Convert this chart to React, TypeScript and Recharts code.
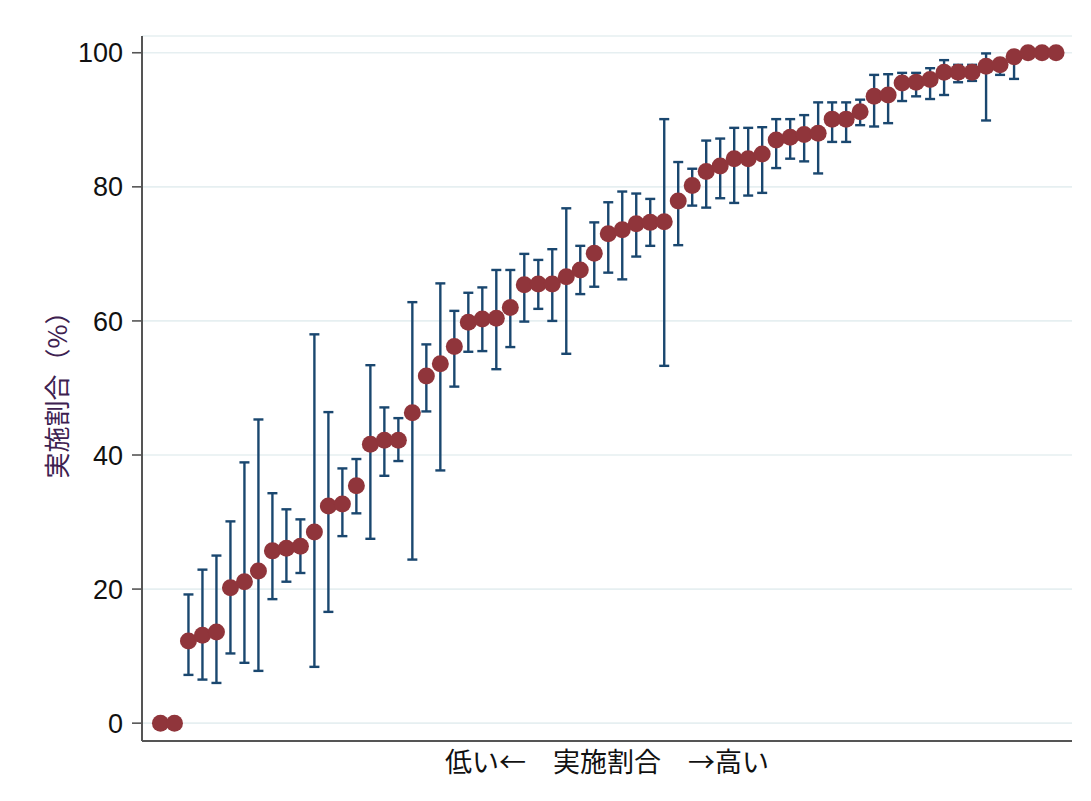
import { ScatterChart, Scatter, XAxis, YAxis, CartesianGrid, ErrorBar, Label } from 'recharts';

// ranked share of implementation (%), with lower / upper confidence limits
const rates = [
  0, 0, 12.25, 13.1, 13.6, 20.2, 21.1, 22.7, 25.7, 26.1, 26.4, 28.5, 32.4, 32.7, 35.4, 41.6,
  42.2, 42.2, 46.3, 51.8, 53.6, 56.2, 59.8, 60.3, 60.4, 62.0, 65.4, 65.5, 65.5, 66.6, 67.6, 70.1,
  73.0, 73.6, 74.5, 74.7, 74.8, 77.9, 80.2, 82.3, 83.1, 84.2, 84.2, 84.9, 87.0, 87.4, 87.8, 88.0,
  90.1, 90.1, 91.2, 93.5, 93.7, 95.5, 95.6, 96.0, 97.1, 97.1, 97.1, 98.0, 98.2, 99.4, 100, 100, 100,
];
const lower: (number | null)[] = [
  null, null, 7.2, 6.5, 6.0, 10.4, 9.0, 7.8, 18.5, 21.1, 22.4, 8.4, 16.6, 27.9, 31.3, 27.5,
  36.9, 39.1, 24.4, 46.5, 37.7, 50.2, 55.4, 55.5, 52.8, 56.1, 59.9, 61.8, 60.0, 55.1, 64.0, 65.1,
  67.2, 66.2, 69.6, 71.2, 53.3, 71.3, 77.2, 76.9, 78.3, 77.6, 78.7, 79.1, 82.8, 84.2, 83.8, 82.0,
  86.7, 86.7, 89.2, 89.0, 89.5, 92.8, 93.5, 93.1, 93.7, 95.6, 95.8, 89.9, 96.7, 96.1, null, null, null,
];
const upper: (number | null)[] = [
  null, null, 19.2, 22.9, 25.0, 30.1, 38.9, 45.3, 34.3, 31.9, 30.4, 58.0, 46.4, 38.0, 39.4, 53.4,
  47.1, 45.5, 62.8, 56.5, 65.6, 61.5, 64.2, 65.0, 67.6, 67.6, 70.0, 69.1, 70.7, 76.8, 71.2, 74.7,
  77.7, 79.3, 79.0, 78.2, 90.1, 83.7, 82.7, 86.9, 87.2, 88.8, 88.8, 88.9, 90.1, 90.1, 90.7, 92.6,
  92.6, 92.6, 93.0, 96.7, 96.8, 97.0, 97.0, 97.7, 98.9, 98.2, 98.2, 99.9, 98.8, 100, null, null, null,
];
const yTicks = [0, 20, 40, 60, 80, 100];

const data = rates.map((v, i) => ({
  rank: i + 1,
  rate: v,
  ci: lower[i] == null || upper[i] == null ? undefined : [v - (lower[i] as number), (upper[i] as number) - v],
}));

const cjk = '"Noto Sans CJK JP", "Noto Sans", sans-serif';
const latin = '"Liberation Sans", Arial, sans-serif';

const Dot = (props: any) => <circle cx={props.cx} cy={props.cy} r={8.5} fill="#90353b" />;

export default function App() {
  return (
    <div style={{ width: 1075, height: 785, borderTop: '1px solid #f1f1f1', borderLeft: '1px solid #f1f1f1', marginTop: -1, marginLeft: -3, paddingLeft: 2 }}>
      <ScatterChart width={1075} height={785} margin={{ top: 28, right: 11, left: 0, bottom: 0 }}>
        <CartesianGrid horizontal vertical={false} stroke="#e6eff1" strokeWidth={1.6} />
        <XAxis
          type="number"
          dataKey="rank"
          domain={[-0.32, 66.14]}
          allowDataOverflow
          tick={false}
          tickLine={false}
          height={52}
          axisLine={{ stroke: '#555', strokeWidth: 2 }}
        >
          <Label
            value="低い←　実施割合　→高い"
            position="insideTop"
            offset={12}
            style={{ fontFamily: cjk, fontSize: 27, fill: '#111' }}
          />
        </XAxis>
        <YAxis
          type="number"
          dataKey="rate"
          domain={[-2.66, 102.5]}
          allowDataOverflow
          ticks={yTicks}
          width={134}
          tickSize={10}
          tickMargin={9}
          tick={{ fontFamily: latin, fontSize: 27, fill: '#111' }}
          tickLine={{ stroke: '#555', strokeWidth: 1.6 }}
          axisLine={{ stroke: '#555', strokeWidth: 2 }}
        >
          <Label
            value="実施割合（%）"
            angle={-90}
            position="insideLeft"
            offset={50}
            style={{ fontFamily: cjk, fontSize: 26, fill: '#3d2150', textAnchor: 'middle' }}
          />
        </YAxis>
        <Scatter data={data} shape={Dot} isAnimationActive={false}>
          <ErrorBar dataKey="ci" direction="y" width={5} stroke="#1a476f" strokeWidth={2.4} />
        </Scatter>
      </ScatterChart>
    </div>
  );
}
